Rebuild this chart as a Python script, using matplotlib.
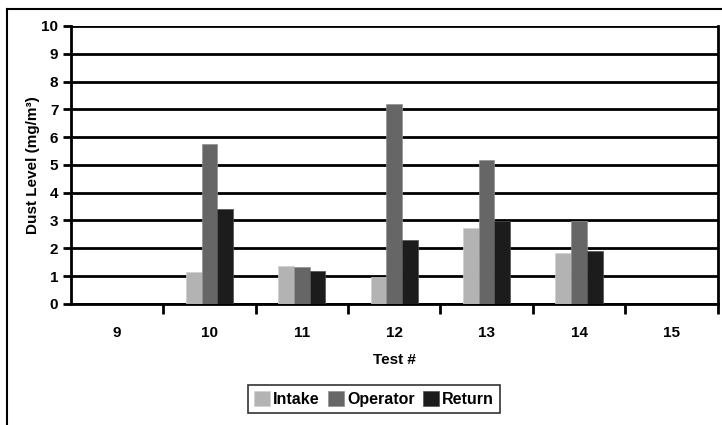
import numpy as np
import matplotlib
matplotlib.use("Agg")
import matplotlib.pyplot as plt
from matplotlib.lines import Line2D

plt.rcParams['font.family'] = ['Liberation Sans', 'DejaVu Sans']
plt.rcParams['font.weight'] = 'bold'

tests = ['9', '10', '11', '12', '13', '14', '15']
intake = [np.nan, 1.16, 1.38, 0.96, 2.73, 1.82, np.nan]
operator = [np.nan, 5.74, 1.32, 7.19, 5.18, 2.98, np.nan]
ret = [np.nan, 3.40, 1.20, 2.29, 2.98, 1.90, np.nan]

fig = plt.figure(figsize=(7.22, 4.25), dpi=100)
ax = fig.add_axes([0.098, 0.285, 0.896, 0.654])

x = np.arange(len(tests))
w = 0.17
ax.bar(x - w, intake, w, color='#b3b3b3', edgecolor='#d0d0d0', linewidth=0.5, label='Intake', zorder=3)
ax.bar(x, operator, w, color='#666666', edgecolor='#909090', linewidth=0.5, label='Operator', zorder=3)
ax.bar(x + w, ret, w, color='#1c1c1c', edgecolor='#505050', linewidth=0.5, label='Return', zorder=3)

ax.set_ylim(0, 10)
ax.set_yticks(range(0, 11))
ax.set_xlim(-0.5, len(tests) - 0.5)
ax.set_xticks(np.arange(0.5, len(tests), 1.0))
ax.set_xticklabels([])
ax.set_xticks(x, minor=True)
ax.set_xticklabels(tests, minor=True)
ax.tick_params(axis='x', which='minor', length=0, pad=16, labelsize=11)
ax.tick_params(axis='x', which='major', length=7, width=2, direction='out')
ax.tick_params(axis='y', length=6, width=2, direction='out', labelsize=11, pad=3)
ax.yaxis.grid(True, color='black', linewidth=2, zorder=1)
ax.set_axisbelow(True)
for s in ax.spines.values():
    s.set_linewidth(2)
    s.set_color('black')
ax.spines['top'].set_visible(False)

ax.set_xlabel('Test #', fontsize=11, fontweight='bold', labelpad=9)
ax.set_ylabel('Dust Level (mg/m³)', fontsize=11, fontweight='bold', labelpad=1)

leg = fig.legend(loc='center', bbox_to_anchor=(0.518, 0.061), ncol=3, frameon=True,
                 fancybox=False, edgecolor='black', fontsize=11.5, handlelength=1.0,
                 handleheight=1.0, handletextpad=0.2, columnspacing=0.5,
                 borderpad=0.4, borderaxespad=0)
leg.get_frame().set_linewidth(1.2)

# outer chart frame (top and left edges visible)
fig.add_artist(Line2D([0.010, 0.010], [0.0, 0.979], transform=fig.transFigure, color='black', linewidth=1.5))
fig.add_artist(Line2D([0.010, 1.0], [0.979, 0.979], transform=fig.transFigure, color='black', linewidth=1.5))

fig.savefig('out.png', dpi=100)
